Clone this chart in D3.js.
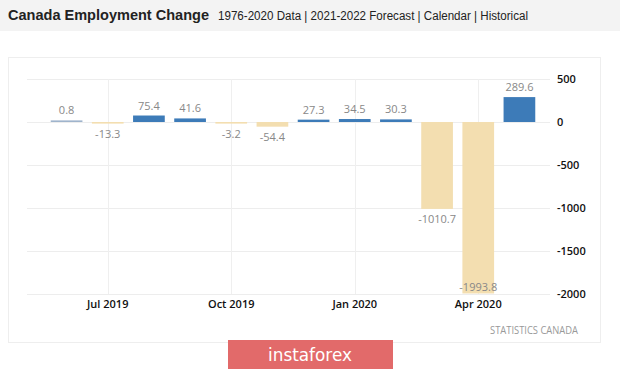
<!DOCTYPE html>
<html><head><meta charset="utf-8">
<script src="https://cdn.jsdelivr.net/npm/d3@7"></script>
<style>
html,body{margin:0;padding:0;background:#fff;}
svg{display:block;}
</style></head>
<body>
<svg id="c" width="620" height="369"></svg>
<script>
const months = ["2019-06","2019-07","2019-08","2019-09","2019-10","2019-11","2019-12","2020-01","2020-02","2020-03","2020-04","2020-05"];
const values = [0.8,-13.3,75.4,41.6,-3.2,-54.4,27.3,34.5,30.3,-1010.7,-1993.8,289.6];
const labels = ["0.8","-13.3","75.4","41.6","-3.2","-54.4","27.3","34.5","30.3","-1010.7","-1993.8","289.6"];
const xTicks = ["2019-07","2019-10","2020-01","2020-04"];
const xTickLabels = ["Jul 2019","Oct 2019","Jan 2020","Apr 2020"];
const yTicks = [500,0,-500,-1000,-1500,-2000];

const svg = d3.select("#c");
// header band
svg.append("rect").attr("x",0).attr("y",0).attr("width",620).attr("height",31).attr("fill","#f3f3f3");
svg.append("text").attr("x",8).attr("y",20).attr("font-family","Liberation Sans, Arial, sans-serif")
  .attr("font-weight","bold").attr("font-size",15).attr("fill","#222")
  .attr("textLength",201).attr("lengthAdjust","spacingAndGlyphs").text("Canada Employment Change");
svg.append("text").attr("x",218).attr("y",20).attr("font-family","Liberation Sans, Arial, sans-serif")
  .attr("font-size",12.5).attr("fill","#222").attr("textLength",310).attr("lengthAdjust","spacingAndGlyphs")
  .text("1976-2020 Data | 2021-2022 Forecast | Calendar | Historical");

// panel
svg.append("rect").attr("x",8.5).attr("y",57.5).attr("width",592).attr("height",285)
  .attr("fill","#fff").attr("stroke","#eeeeee");

const x = d3.scaleBand().domain(months).range([46,540]).paddingInner(0.23).paddingOuter(0.115);
const y = d3.scaleLinear().domain([-2000,500]).range([294,79]);
const gx0 = 27, gx1 = 550;

// horizontal grid
svg.append("g").selectAll("line").data(yTicks).join("line")
  .attr("x1",gx0).attr("x2",gx1).attr("y1",d=>Math.round(y(d))+0.5).attr("y2",d=>Math.round(y(d))+0.5)
  .attr("stroke","#ededed").attr("stroke-width",1);
// vertical grid
svg.append("g").selectAll("line").data(xTicks).join("line")
  .attr("x1",d=>Math.round(x(d)+x.bandwidth()/2)+0.5).attr("x2",d=>Math.round(x(d)+x.bandwidth()/2)+0.5)
  .attr("y1",y(500)).attr("y2",y(-2000))
  .attr("stroke","#efefef").attr("stroke-width",1);

// y axis labels
svg.append("g").selectAll("text").data(yTicks).join("text")
  .attr("x",557).attr("y",d=>y(d)+4).attr("font-family","Open Sans, sans-serif")
  .attr("font-weight",600).attr("font-size",11).attr("fill","#111").text(d=>d);

// x axis labels
svg.append("g").selectAll("text").data(xTicks).join("text")
  .attr("x",d=>x(d)+x.bandwidth()/2).attr("y",308).attr("text-anchor","middle")
  .attr("font-family","Open Sans, sans-serif").attr("font-weight",600).attr("font-size",11).attr("fill","#111")
  .text((d,i)=>xTickLabels[i]);

const blue = "#3d7bb8", tan = "#f3deb0";
const minH = 1.6;
const data = months.map((m,i)=>({m, v:values[i], l:labels[i]}));
const barTop = d => d.v>=0 ? Math.min(y(d.v), y(0)-minH) : y(0);
const barH = d => Math.max(Math.abs(y(d.v)-y(0)), minH);
svg.append("g").selectAll("rect").data(data).join("rect")
  .attr("x",d=>x(d.m)).attr("width",x.bandwidth())
  .attr("y",barTop).attr("height",barH)
  .attr("fill",d=> d.v>=0 ? (d.v<5 ? "#9fb4cc" : blue) : tan);

svg.append("g").selectAll("text").data(data).join("text")
  .attr("x",d=>x(d.m)+x.bandwidth()/2)
  .attr("y",d=> d.v>=0 ? barTop(d)-6 : Math.min(y(0)+barH(d)+14, 291))
  .attr("text-anchor","middle").attr("font-family","Open Sans, sans-serif").attr("font-size",11)
  .attr("fill","#888").text(d=>d.l);

// source
svg.append("text").attr("x",578).attr("y",334).attr("text-anchor","end")
  .attr("font-family","Open Sans, sans-serif").attr("font-size",10).attr("fill","#999")
  .attr("textLength",88).attr("lengthAdjust","spacingAndGlyphs").text("STATISTICS CANADA");

// logo
svg.append("rect").attr("x",228).attr("y",340).attr("width",165).attr("height",29).attr("fill","#e26a6a");
svg.append("text").attr("x",310).attr("y",361).attr("text-anchor","middle")
  .attr("font-family","DejaVu Sans, sans-serif").attr("font-size",18).attr("fill","#fff")
  .attr("textLength",84).attr("lengthAdjust","spacingAndGlyphs").text("instaforex");
</script>
</body></html>
